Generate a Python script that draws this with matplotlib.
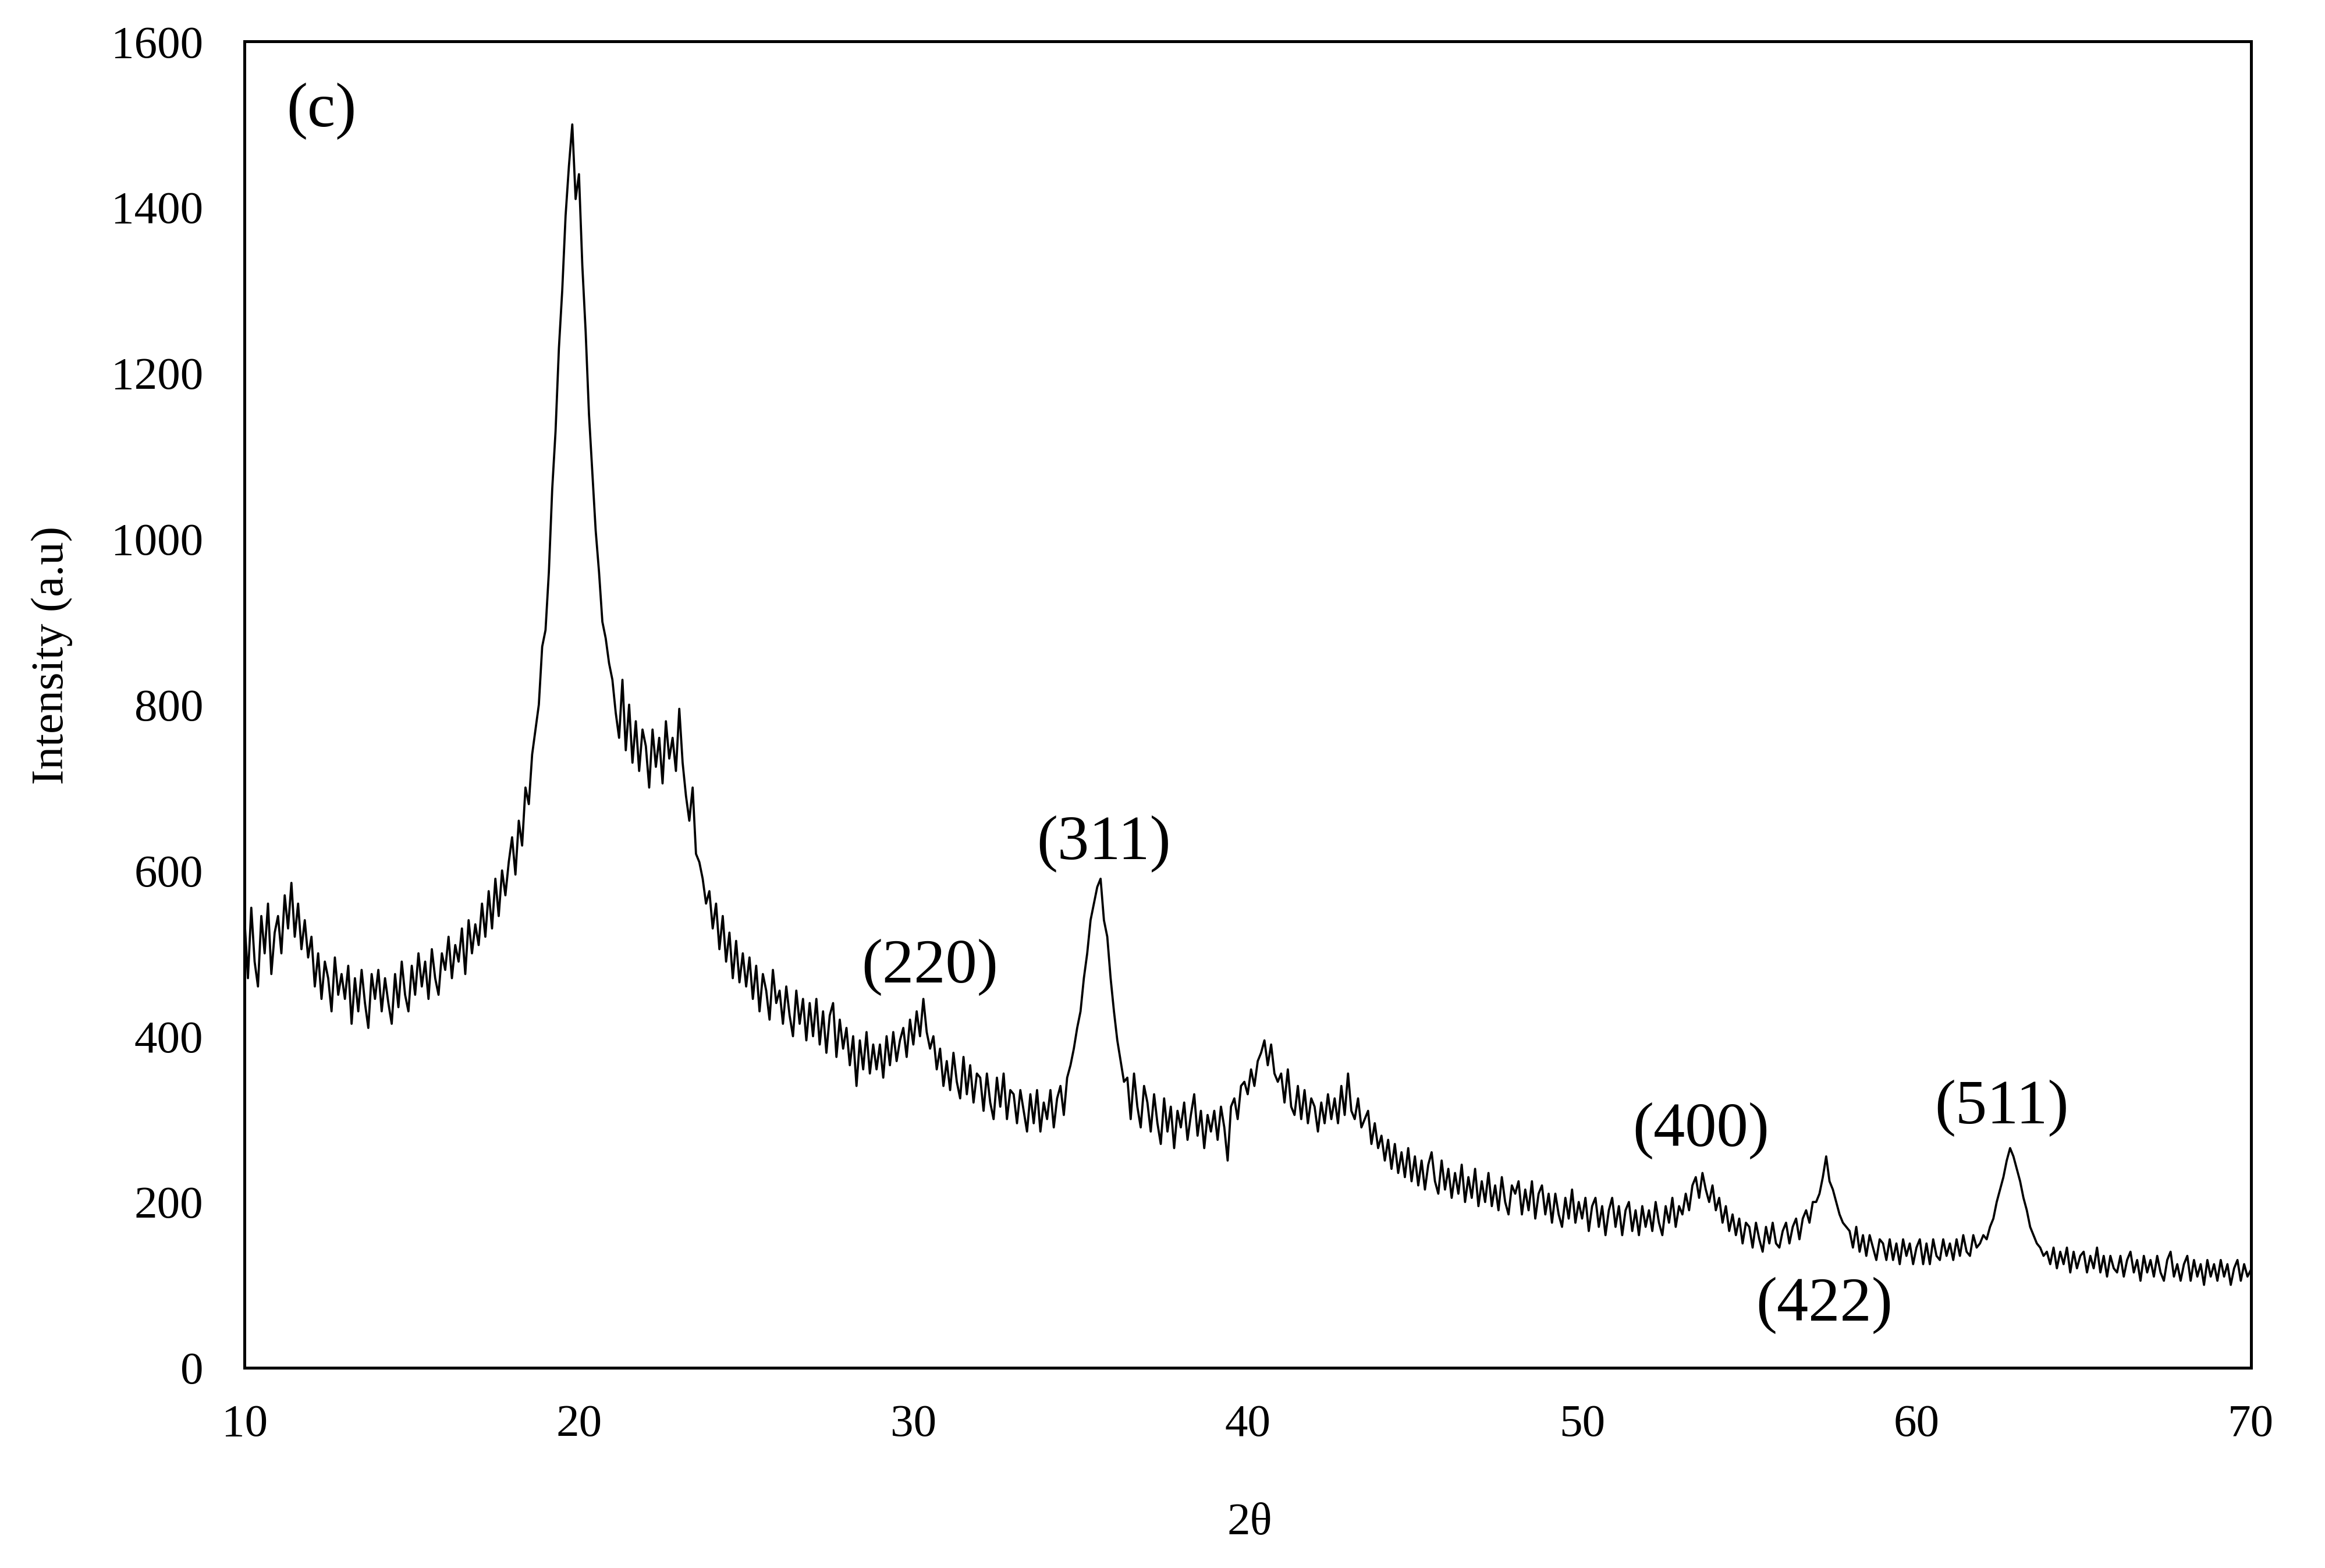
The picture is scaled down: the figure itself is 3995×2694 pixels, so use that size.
import numpy as np
import matplotlib
matplotlib.use("Agg")
import matplotlib.pyplot as plt

plt.rcParams['font.family'] = ['Liberation Serif', 'DejaVu Serif']

# scan grid (degrees 2theta)
two_theta_start = 10.0
two_theta_step = 0.1

# intensity, one row per degree (10.0 ... 70.0)
intensity = [
    540, 470, 555, 490, 460, 545, 500, 560, 475, 525,      # 10
    545, 500, 570, 530, 585, 520, 560, 505, 540, 495,      # 11
    520, 460, 500, 445, 490, 470, 430, 495, 450, 475,      # 12
    445, 485, 415, 470, 430, 480, 440, 410, 475, 445,      # 13
    480, 430, 470, 440, 415, 475, 435, 490, 450, 430,      # 14
    485, 450, 500, 460, 490, 445, 505, 470, 450, 500,      # 15
    480, 520, 470, 510, 490, 530, 475, 540, 500, 535,      # 16
    510, 560, 520, 575, 530, 590, 545, 600, 570, 610,      # 17
    640, 595, 660, 630, 700, 680, 740, 770, 800, 870,      # 18
    890, 960, 1060, 1130, 1230, 1300, 1390, 1450, 1500, 1410,  # 19
    1440, 1330, 1250, 1150, 1080, 1010, 960, 900, 880, 850,    # 20
    830, 790, 760, 830, 745, 800, 730, 780, 720, 770,      # 21
    750, 700, 770, 725, 760, 705, 780, 735, 760, 720,      # 22
    795, 730, 690, 660, 700, 620, 610, 590, 560, 575,      # 23
    530, 560, 505, 545, 490, 525, 470, 515, 465, 500,      # 24
    460, 495, 445, 485, 430, 475, 455, 420, 480, 440,      # 25
    455, 415, 460, 425, 400, 455, 415, 445, 395, 440,      # 26
    400, 445, 390, 430, 380, 425, 440, 375, 420, 385,      # 27
    410, 365, 400, 340, 395, 360, 405, 355, 390, 360,      # 28
    390, 350, 400, 365, 405, 370, 395, 410, 375, 420,      # 29
    390, 430, 400, 445, 405, 385, 400, 360, 385, 340,      # 30
    370, 335, 380, 345, 325, 375, 330, 365, 320, 355,      # 31
    350, 310, 355, 320, 300, 350, 315, 355, 300, 335,      # 32
    330, 295, 335, 310, 285, 330, 295, 335, 285, 320,      # 33
    300, 335, 290, 325, 340, 305, 350, 365, 385, 410,      # 34
    430, 470, 500, 540, 560, 580, 590, 540, 520, 470,      # 35
    430, 395, 370, 345, 350, 300, 355, 315, 290, 340,      # 36
    320, 285, 330, 295, 270, 325, 285, 315, 265, 310,      # 37
    290, 320, 275, 305, 330, 280, 310, 265, 305, 285,      # 38
    310, 275, 315, 290, 250, 315, 325, 300, 340, 345,      # 39
    330, 360, 340, 370, 380, 395, 365, 390, 355, 345,      # 40
    355, 320, 360, 315, 305, 340, 300, 335, 295, 325,      # 41
    315, 285, 320, 295, 330, 300, 325, 295, 340, 305,      # 42
    355, 310, 300, 325, 290, 300, 310, 270, 295, 265,      # 43
    280, 250, 275, 240, 270, 235, 260, 230, 265, 225,      # 44
    255, 220, 250, 215, 245, 260, 225, 210, 250, 215,      # 45
    240, 205, 235, 210, 245, 200, 230, 205, 240, 195,      # 46
    225, 200, 235, 195, 220, 190, 230, 200, 185, 220,      # 47
    210, 225, 185, 215, 190, 225, 180, 210, 220, 185,      # 48
    210, 175, 210, 185, 170, 205, 180, 215, 175, 200,      # 49
    180, 205, 165, 195, 205, 170, 195, 160, 190, 205,      # 50
    170, 195, 160, 190, 200, 165, 190, 160, 195, 170,      # 51
    190, 165, 200, 175, 160, 195, 175, 205, 170, 195,      # 52
    185, 210, 190, 220, 230, 205, 235, 215, 200, 220,      # 53
    190, 205, 175, 195, 165, 185, 160, 180, 150, 175,      # 54
    170, 145, 175, 155, 140, 170, 150, 175, 150, 145,      # 55
    165, 175, 150, 170, 180, 155, 180, 190, 175, 200,      # 56
    200, 210, 230, 255, 225, 215, 200, 185, 175, 170,      # 57
    165, 145, 170, 140, 160, 135, 160, 145, 130, 155,      # 58
    150, 130, 155, 130, 150, 125, 155, 135, 150, 125,      # 59
    145, 155, 125, 150, 125, 155, 135, 130, 155, 135,      # 60
    150, 130, 155, 135, 160, 140, 135, 160, 145, 150,      # 61
    160, 155, 170, 180, 200, 215, 230, 250, 265, 255,      # 62
    240, 225, 205, 190, 170, 160, 150, 145, 135, 140,      # 63
    125, 145, 120, 140, 125, 145, 115, 140, 120, 135,      # 64
    140, 115, 135, 120, 145, 115, 135, 110, 135, 120,      # 65
    115, 135, 110, 130, 140, 115, 130, 105, 135, 115,      # 66
    130, 110, 135, 115, 105, 130, 140, 110, 125, 105,      # 67
    125, 135, 105, 130, 110, 125, 100, 130, 110, 125,      # 68
    105, 130, 110, 125, 100, 120, 130, 105, 125, 110,      # 69
    118,                                                   # 70
]

# peak labels (hkl) and where they sit
peak_labels = ["(220)", "(311)", "(400)", "(422)", "(511)"]
peak_label_x = [30.5, 35.7, 53.55, 57.25, 62.55]
peak_label_y = [483, 632, 286, 75, 313]

x_ticks = [10, 20, 30, 40, 50, 60, 70]
y_ticks = [0, 200, 400, 600, 800, 1000, 1200, 1400, 1600]

two_theta = two_theta_start + two_theta_step * np.arange(len(intensity))

fig = plt.figure(figsize=(3995 / 300, 2694 / 300), dpi=300)
ax = fig.add_axes([0.1052, 0.1277, 0.8629, 0.8458])

ax.plot(two_theta, intensity, color="black", linewidth=0.9)

ax.set_xlim(10, 70)
ax.set_ylim(0, 1600)
ax.set_xticks(x_ticks)
ax.set_yticks(y_ticks)
ax.tick_params(axis="both", length=0, labelsize=19)
ax.tick_params(axis="x", pad=15)
ax.tick_params(axis="y", pad=17)
for s in ax.spines.values():
    s.set_linewidth(1.2)
    s.set_color("black")

for lab, px, py in zip(peak_labels, peak_label_x, peak_label_y):
    ax.text(px, py, lab, fontsize=26, ha="center", va="center")

ax.text(12.3, 1516, "(c)", fontsize=26, ha="center", va="center")

fig.text(0.0223, 0.582, "Intensity (a.u)", rotation=90, fontsize=19,
         ha="center", va="center")
fig.text(0.5376, 0.0284, "2θ", fontsize=19, ha="center", va="center")

fig.savefig("out.png", dpi=300)
